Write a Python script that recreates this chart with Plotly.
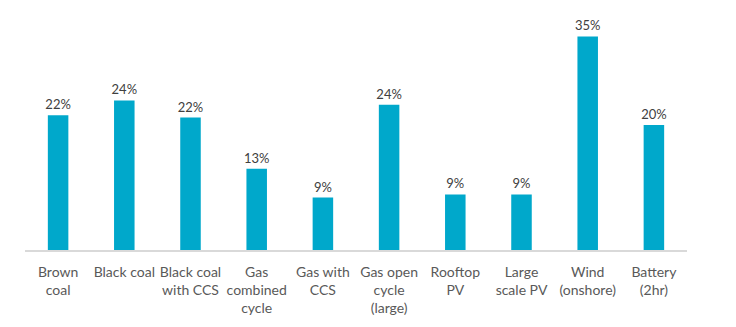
import plotly.graph_objects as go

categories = ["Brown<br>coal", "Black coal", "Black coal<br>with CCS", "Gas<br>combined<br>cycle",
              "Gas with<br>CCS", "Gas open<br>cycle<br>(large)", "Rooftop<br>PV", "Large<br>scale PV",
              "Wind<br>(onshore)", "Battery<br>(2hr)"]
values = [22.1, 24.5, 21.7, 13.3, 8.6, 23.8, 9.1, 9.1, 35.0, 20.5]
labels = ["22%", "24%", "22%", "13%", "9%", "24%", "9%", "9%", "35%", "20%"]

fig = go.Figure(go.Bar(
    x=categories, y=values, text=labels, textposition="outside",
    textfont=dict(family="Lato", size=13, color="#404040"),
    constraintext="none",
    marker=dict(color="#00A8CB", line=dict(width=0)),
    width=0.31, cliponaxis=False,
))
fig.update_layout(
    width=736, height=327, margin=dict(l=25, r=49, t=12, b=77),
    plot_bgcolor="white", paper_bgcolor="white", showlegend=False,
    font=dict(family="Lato", color="#595959"),
)
fig.update_xaxes(showline=True, linecolor="#D9D9D9", linewidth=1.5, ticks="",
                 tickfont=dict(family="Lato", size=14, color="#595959"),
                 ticklabelstandoff=8, tickangle=0)
fig.update_yaxes(range=[0, 39], visible=False, showgrid=False)
fig.write_html("out.html")
